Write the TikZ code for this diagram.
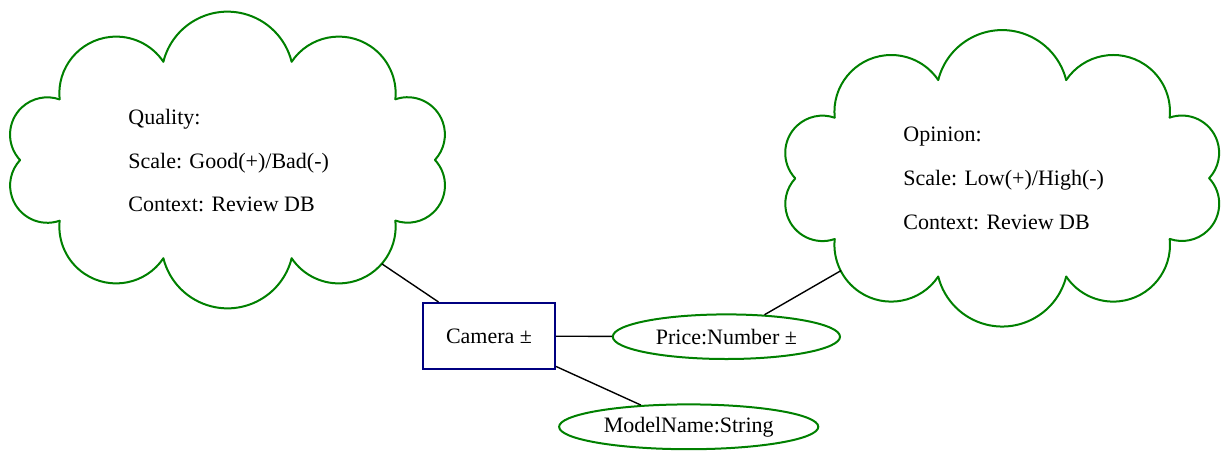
\documentclass[tikz,border=0pt]{standalone}
\usepackage{fontspec}
\setmainfont{Liberation Serif}
\usetikzlibrary{shapes.geometric}
\definecolor{cgreen}{RGB}{0,128,0}
\definecolor{cnavy}{RGB}{0,0,128}
\newcommand{\cloudpath}[4]{%
  \foreach \k in {0,...,9}{%
    \pgfmathsetmacro{\ax}{#1+#3*cos(36*\k)}%
    \pgfmathsetmacro{\ay}{#2+#4*sin(36*\k)}%
    \pgfmathsetmacro{\bx}{#1+#3*cos(36*(\k+1))}%
    \pgfmathsetmacro{\by}{#2+#4*sin(36*(\k+1))}%
    \pgfmathsetmacro{\ph}{atan2(\by-\ay,\bx-\ax)}%
    \pgfmathsetmacro{\rr}{veclen(\bx-\ax,\by-\ay)/(2*sin(76))}%
    \draw[cloudline] (\ax,\ay) arc[start angle=\ph-166, end angle=\ph-14, radius=\rr];
  }%
}
\begin{document}
\begin{tikzpicture}[x=0.5pt,y=-0.5pt,
  every node/.style={font=\fontsize{11}{13}\selectfont},
  cloudline/.style={draw=cgreen, line width=1pt, line cap=round},
  entity/.style={draw=cnavy, line width=1pt, rectangle, minimum width=66pt, minimum height=33pt, inner sep=0pt},
  attr/.style={draw=cgreen, line width=1pt, ellipse, inner sep=0pt},
  link/.style={draw=black, line width=0.7pt},
  cloudtext/.style={anchor=base west, inner sep=0pt}]
\useasboundingbox (0,0) rectangle (1229,450);
% clouds
\cloudpath{227.5}{160}{207.5}{103.3}
\cloudpath{1002.2}{178.3}{207}{103.3}
\coordinate (qcloud) at (381.8,263.8);
\coordinate (ocloud) at (841,270.6);
% cloud texts
\node[cloudtext] (q1) at (128,124.5) {Quality:};
\node[cloudtext] (q2) at (128,168) {Scale: Good(+)/Bad(-)};
\node[cloudtext] (q3) at (128,211.5) {Context: Review DB};
\node[cloudtext] (o1) at (903,141.8) {Opinion:};
\node[cloudtext] (o2) at (903,185.5) {Scale: Low(+)/High(-)};
\node[cloudtext] (o3) at (903,229.2) {Context: Review DB};
% entity and attributes
\node[entity] (cam) at (489,336) {Camera ±};
\node[attr, minimum width=113.6pt, minimum height=22.3pt] (price) at (726.4,336.7) {Price:Number ±};
\node[attr, minimum width=129.6pt, minimum height=22.4pt] (model) at (688.7,426.8) {ModelName:String};
% connectors
\draw[link] (cam) -- (qcloud);
\draw[link] (cam) -- (price);
\draw[link] (cam) -- (model);
\draw[link] (price) -- (ocloud);
\end{tikzpicture}
\end{document}
